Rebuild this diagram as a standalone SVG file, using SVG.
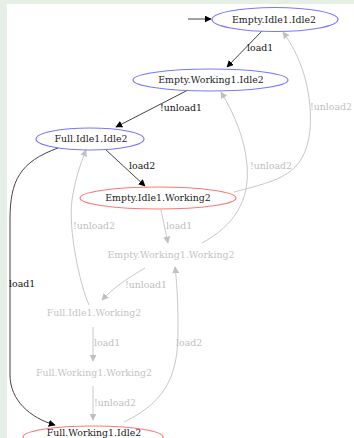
<svg xmlns="http://www.w3.org/2000/svg" width="354" height="438" viewBox="0 0 354 438">
<defs>
<marker id="ad" viewBox="0 0 10 10" refX="9" refY="5" markerWidth="7" markerHeight="7" markerUnits="userSpaceOnUse" orient="auto"><path d="M0,0 L10,5 L0,10 z" fill="#000"/></marker>
<marker id="al" viewBox="0 0 10 10" refX="9" refY="5" markerWidth="7" markerHeight="7" markerUnits="userSpaceOnUse" orient="auto"><path d="M0,0 L10,5 L0,10 z" fill="#c0c0c0"/></marker>
</defs>
<style>
text{font-family:"DejaVu Serif","Liberation Serif",serif;font-size:9.4px}
.n{text-anchor:middle;fill:#222}
.nl{text-anchor:middle;fill:#c4c4c4}
.bl{fill:none;stroke:#7777ff;stroke-width:1.2}
.rd{fill:none;stroke:#ff7777;stroke-width:1.2}
.ed{fill:none;stroke:#444;stroke-width:1;marker-end:url(#ad)}
.el{fill:none;stroke:#c8c8c8;stroke-width:1;marker-end:url(#al)}
.ld{fill:#111}
.ll{fill:#c0c0c0}
</style>
<rect x="0" y="0" width="354" height="438" fill="#e6efe6"/>
<rect x="7" y="4" width="347" height="434" fill="#fff"/>
<g id="edges">
<path class="ed" d="M188,19 L211,19"/>
<path class="ed" d="M262,31 L227,67"/>
<text class="ld" x="247" y="51">load1</text>
<path class="ed" d="M188,90 L116,127"/>
<text class="ld" x="160" y="111">!unload1</text>
<path class="ed" d="M105,149 L145,186"/>
<text class="ld" x="129" y="169">load2</text>
<path class="ed" d="M58,148 C20,162 10,180 10,220 L10,375 C10,400 30,418 55,425"/>
<text class="ld" x="9" y="287">load1</text>
<path class="el" d="M234,192 C280,180 305,175 310,130 C313,90 300,55 283,32"/>
<text class="ll" x="310" y="110">!unload2</text>
<path class="el" d="M202,243 C235,225 250,200 247,165 C245,140 235,115 221,92"/>
<text class="ll" x="250" y="169">!unload2</text>
<path class="el" d="M161,210 L168,243"/>
<text class="ll" x="166" y="229">load1</text>
<path class="el" d="M145,268 C128,278 113,288 102,300"/>
<text class="ll" x="125" y="288">!unload1</text>
<path class="el" d="M89,305 C80,285 68,230 72,200 C75,180 80,165 86,150"/>
<text class="ll" x="73" y="229">!unload2</text>
<path class="el" d="M93,327 L93,361"/>
<text class="ll" x="94" y="346">load1</text>
<path class="el" d="M93,386 L93,420"/>
<text class="ll" x="94" y="406">!unload2</text>
<path class="el" d="M124,422 C170,400 178,370 178,330 C178,300 177,285 175,267"/>
<text class="ll" x="176" y="346">load2</text>
</g>
<g id="n1"><ellipse class="bl" cx="275" cy="19.5" rx="63" ry="12"/><text class="n" x="274" y="22.5">Empty.Idle1.Idle2</text></g>
<g id="n2"><ellipse class="bl" cx="210.5" cy="80" rx="77.5" ry="11"/><text class="n" x="211" y="83">Empty.Working1.Idle2</text></g>
<g id="n3"><ellipse class="bl" cx="90" cy="139" rx="54" ry="11"/><text class="n" x="91" y="142">Full.Idle1.Idle2</text></g>
<g id="n4"><ellipse class="rd" cx="158" cy="198" rx="78" ry="11"/><text class="n" x="158" y="201" fill="#111">Empty.Idle1.Working2</text></g>
<g id="n5"><text class="nl" x="171" y="258">Empty.Working1.Working2</text></g>
<g id="n6"><text class="nl" x="94" y="316">Full.Idle1.Working2</text></g>
<g id="n7"><text class="nl" x="94" y="376">Full.Working1.Working2</text></g>
<g id="n8"><ellipse class="rd" cx="93" cy="437" rx="70" ry="11"/><text class="n" x="94" y="436">Full.Working1.Idle2</text></g>
</svg>
